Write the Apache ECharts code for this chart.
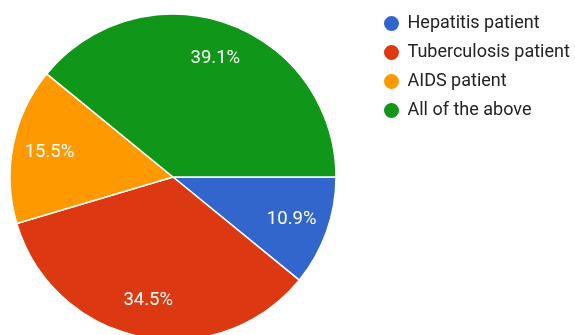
<!DOCTYPE html>
<html>
<head>
<meta charset="utf-8">
<script src="https://cdn.jsdelivr.net/npm/echarts@6/dist/echarts.min.js"></script>
<style>
html,body{margin:0;padding:0;background:#fff;}
#main{width:575px;height:335px;}
</style>
</head>
<body>
<div id="main"></div>
<script>
var categories = ['Hepatitis patient', 'Tuberculosis patient', 'AIDS patient', 'All of the above'];
var values = [10.9, 34.5, 15.5, 39.1];
var colors = ['#3366cc', '#dc3912', '#ff9900', '#109618'];

var data = categories.map(function (c, i) {
  return { name: c, value: values[i], itemStyle: { color: colors[i] } };
});
var labelData = categories.map(function (c, i) {
  return { name: c, value: values[i] };
});

var chart = echarts.init(document.getElementById('main'), null, { renderer: 'canvas' });
chart.setOption({
  animation: false,
  backgroundColor: '#ffffff',
  legend: {
    orient: 'vertical',
    left: 382,
    top: 14,
    padding: 0,
    icon: 'circle',
    itemWidth: 22,
    itemHeight: 17,
    itemGap: 10,
    data: categories,
    textStyle: { fontFamily: 'Roboto', fontSize: 18, lineHeight: 17, color: '#222222' }
  },
  series: [
    {
      type: 'pie',
      center: [173, 177],
      radius: [0, 163],
      startAngle: 0,
      clockwise: true,
      data: data,
      label: { show: false },
      labelLine: { show: false },
      itemStyle: { borderColor: '#ffffff', borderWidth: 1.5 },
      emphasis: { disabled: true }
    },
    {
      type: 'pie',
      center: [173, 177],
      radius: [83, 163],
      startAngle: 0,
      clockwise: true,
      silent: true,
      data: labelData,
      itemStyle: { color: 'rgba(0,0,0,0)', borderWidth: 0 },
      label: {
        show: true,
        position: 'inside',
        formatter: function (p) { return p.value.toFixed(1) + '%'; },
        color: '#ffffff',
        fontFamily: 'Roboto',
        fontSize: 18.5
      },
      labelLine: { show: false },
      emphasis: { disabled: true }
    }
  ]
});
</script>
</body>
</html>
